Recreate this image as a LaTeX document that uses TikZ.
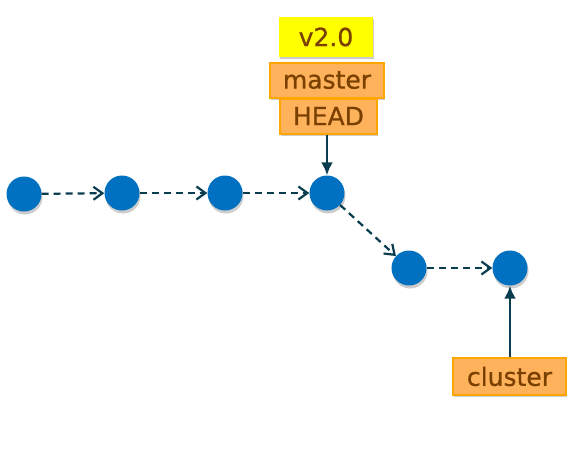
\documentclass[tikz,border=0pt]{standalone}
\usepackage{fontspec}
\setmainfont[FakeBold=0.8]{DejaVu Sans}
\usetikzlibrary{arrows.meta,shadows}
\definecolor{commitblue}{HTML}{0070C0}
\definecolor{edgeteal}{HTML}{0B3D50}
\definecolor{refbrown}{HTML}{7A4000}
\definecolor{reffill}{HTML}{FFB25C}
\definecolor{refdraw}{HTML}{FFA500}
\definecolor{tagfill}{HTML}{FFFF00}
\tikzset{
  commit/.style={circle, fill=commitblue, minimum size=35pt, inner sep=0pt,
    drop shadow={shadow xshift=1pt, shadow yshift=-3pt, opacity=0.2, fill=black}},
  history/.style={draw=edgeteal, line width=2.2pt, dash pattern=on 7pt off 5pt,
    -{Straight Barb[length=9pt,width=13pt,line width=2.2pt]}},
  pointer/.style={draw=edgeteal, line width=2.5pt, -{Latex[length=13pt,width=12pt]}},
  refbox/.style={fill=reffill, draw=refdraw, line width=2pt, text=refbrown,
    inner sep=0pt, font=\fontsize{25}{25}\selectfont,
    drop shadow={shadow xshift=1pt, shadow yshift=-2pt, opacity=0.2, fill=black}},
  tagbox/.style={fill=tagfill, text=refbrown, inner sep=0pt,
    font=\fontsize{25}{25}\selectfont,
    drop shadow={shadow xshift=1pt, shadow yshift=-2pt, opacity=0.2, fill=black}}
}
\begin{document}
\begin{tikzpicture}[x=1pt,y=-1pt]
\useasboundingbox (0,0) rectangle (579,459);
% commit positions
\def\commits {24/194, 122/193, 225/193, 327/193, 409/268, 510/268};
% commits
\foreach \cx/\cy [count=\index] in \commits
{
	\node[commit] (commit_\index) at (\cx,\cy) {};
}
% history edges
\foreach \current in {1,...,5}
{
	\pgfmathtruncatemacro{\next}{\current+1};
	\draw[history] (commit_\current) -- (commit_\next);
}
% refs
\node[tagbox, minimum width=94pt, minimum height=40pt] (tag) at (326,37) {v2.0};
\node[refbox, minimum width=114pt, minimum height=35pt] (master) at (327,80) {master};
\node[refbox, minimum width=97pt, minimum height=35pt] (head) at (328.5,116) {HEAD};
\node[refbox, minimum width=113pt, minimum height=37pt] (cluster) at (509.5,376.5) {cluster};
% ref pointers
\draw[pointer] (head.south -| commit_4) -- (commit_4);
\draw[pointer] (cluster.north -| commit_6) -- (commit_6);
\end{tikzpicture}
\end{document}
